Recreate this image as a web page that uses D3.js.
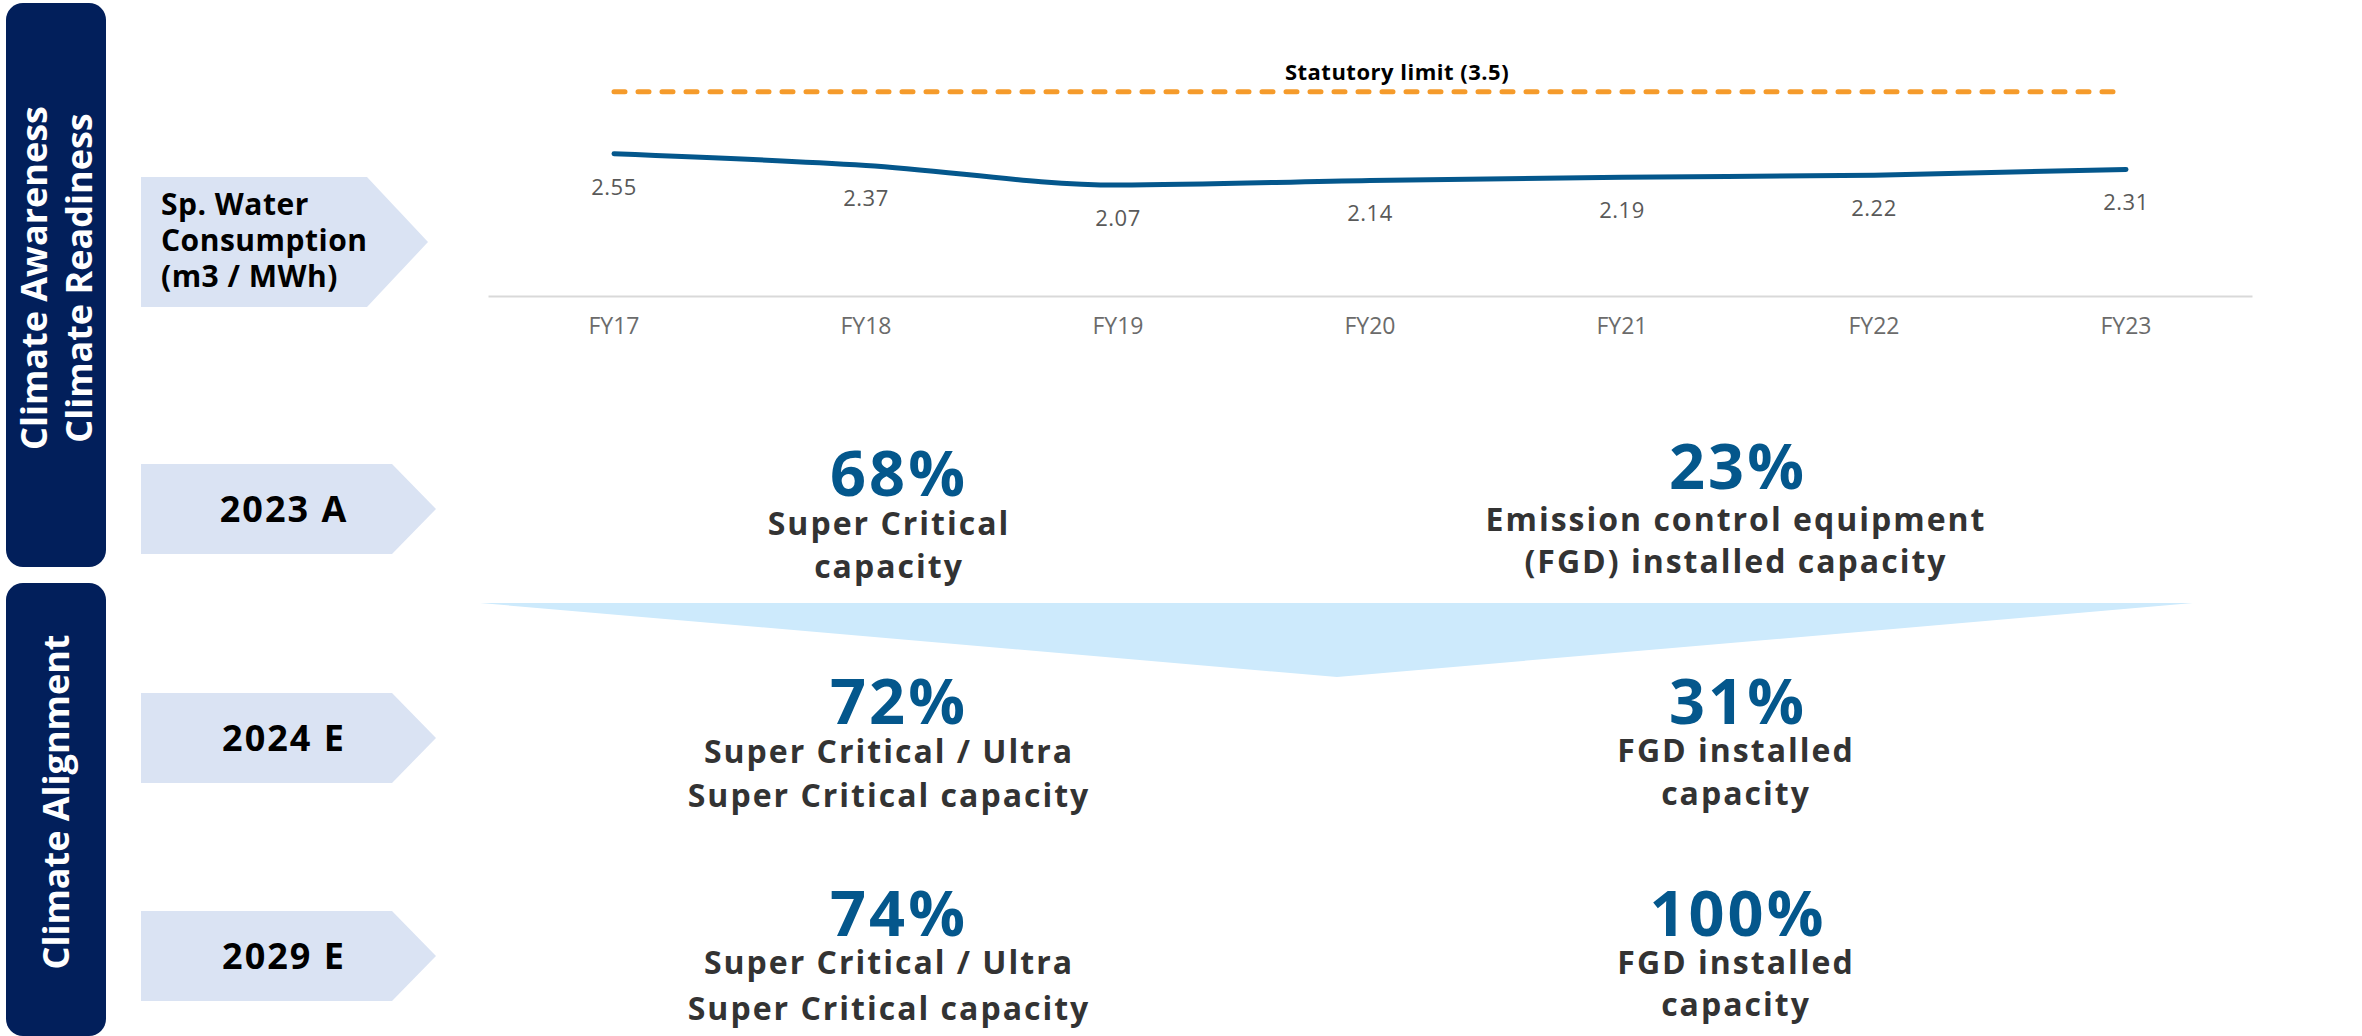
<!DOCTYPE html>
<html>
<head>
<meta charset="utf-8">
<script src="https://cdn.jsdelivr.net/npm/d3@7"></script>
<style>
    html, body { margin: 0; padding: 0; background: #ffffff; }
    svg { display: block; }
    text { font-family: "Open Sans", "Noto Sans", sans-serif; }
</style>
</head>
<body>
<div id="graph"></div>
<script>
/*
    Data
*/
var years = ["FY17", "FY18", "FY19", "FY20", "FY21", "FY22", "FY23"],
    waterUse = [2.55, 2.37, 2.07, 2.14, 2.19, 2.22, 2.31],
    statutoryLimit = 3.5,
    statutoryLabel = "Statutory limit (3.5)"

var outlookRows = ["2023 A", "2024 E", "2029 E"],
    superCriticalPct = [68, 72, 74],
    superCriticalText = [
        ["Super Critical", "capacity"],
        ["Super Critical / Ultra", "Super Critical capacity"],
        ["Super Critical / Ultra", "Super Critical capacity"]
    ],
    fgdPct = [23, 31, 100],
    fgdText = [
        ["Emission control equipment", "(FGD) installed capacity"],
        ["FGD installed", "capacity"],
        ["FGD installed", "capacity"]
    ]

var sideTitles = [
    ["Climate Awareness", "Climate Readiness"],
    ["Climate Alignment"]
]

/*
    Canvas
*/
var width = 2362,
    height = 1036

var svg = d3.select("#graph").append("svg")
            .attr("width", width)
            .attr("height", height)

var navy = "#021f5b",
    blue = "#04578c",
    orange = "#f59b2b",
    tag = "#dae3f3"

/*
    Navy side bars with vertical titles
*/
var sideBars = [
    {y: 3, h: 564, lines: sideTitles[0], base: [47, 92], cy: 278},
    {y: 583, h: 453, lines: sideTitles[1], base: [69], cy: 802}
]

sideBars.forEach(function( b ) {
    svg.append("rect")
        .attr("x", 6)
        .attr("y", b.y)
        .attr("width", 100)
        .attr("height", b.h)
        .attr("rx", 17)
        .attr("fill", navy)

    b.lines.forEach(function( line, i ) {
        svg.append("text")
            .attr("transform", "translate(" + b.base[i] + "," + b.cy + ") rotate(-90)")
            .attr("text-anchor", "middle")
            .attr("fill", "#ffffff")
            .style("font-size", "36px")
            .style("font-weight", 700)
            .text(line)
    })
})

/*
    Chevron tags on the left
*/
function chevron( top, bottom, rEnd, tip ) {
    var mid = (top + bottom) / 2
    return [[141, top], [rEnd, top], [tip, mid], [rEnd, bottom], [141, bottom]]
}

svg.append("polygon")
    .attr("points", chevron(177, 307, 367, 428).join(" "))
    .attr("fill", tag)

var tagLines = ["Sp. Water", "Consumption", "(m3 / MWh)"]
tagLines.forEach(function( t, i ) {
    svg.append("text")
        .attr("x", 161)
        .attr("y", 215 + i * 36)
        .attr("fill", "#000000")
        .style("font-size", "30px")
        .style("font-weight", 700)
        .style("letter-spacing", "0.5px")
        .text(t)
})

var rowTags = [
    {top: 464, bottom: 554, base: 522},
    {top: 693, bottom: 783, base: 751},
    {top: 911, bottom: 1001, base: 969}
]

outlookRows.forEach(function( label, i ) {
    var r = rowTags[i]
    svg.append("polygon")
        .attr("points", chevron(r.top, r.bottom, 392, 436).join(" "))
        .attr("fill", tag)

    svg.append("text")
        .attr("x", 284)
        .attr("y", r.base)
        .attr("text-anchor", "middle")
        .attr("fill", "#000000")
        .style("font-size", "36px")
        .style("font-weight", 700)
        .style("letter-spacing", "2px")
        .text(label)
})

/*
    Water consumption line chart
*/
var x = d3.scaleBand()
          .domain(years)
          .range([488, 2252]),
    y = d3.scaleLinear()
          .domain([2, 3.5])
          .range([189.6, 91.8])

var cx = function( d ) { return x(d) + x.bandwidth() / 2 }

var xAxis = svg.append("g")
    .attr("class", "x axis")
    .attr("transform", "translate(0,296)")
    .call(d3.axisBottom(x).tickSize(0).tickPadding(22))

xAxis.select(".domain")
    .attr("stroke", "#d9d9d9")
    .attr("stroke-width", 2)

xAxis.selectAll("text")
    .attr("fill", "#6b6b6b")
    .style("font-size", "23px")
    .style("font-family", "'Open Sans', sans-serif")

// Statutory limit
svg.append("line")
    .attr("x1", cx(years[0]))
    .attr("x2", cx(years[years.length - 1]))
    .attr("y1", y(statutoryLimit))
    .attr("y2", y(statutoryLimit))
    .attr("stroke", orange)
    .attr("stroke-width", 5)
    .attr("stroke-linecap", "round")
    .attr("stroke-dasharray", "11 13")

svg.append("text")
    .attr("x", 1397)
    .attr("y", y(statutoryLimit) - 12)
    .attr("text-anchor", "middle")
    .attr("fill", "#000000")
    .style("font-size", "22px")
    .style("font-weight", 700)
    .style("letter-spacing", "0.5px")
    .text(statutoryLabel)

var points = years.map(function( d, i ) { return [cx(d), y(waterUse[i])] })

var line = d3.line()
    .curve(d3.curveMonotoneX)

svg.append("path")
    .attr("d", line(points))
    .attr("fill", "none")
    .attr("stroke", blue)
    .attr("stroke-width", 5)
    .attr("stroke-linecap", "round")
    .attr("stroke-linejoin", "round")

svg.selectAll(".value-label")
    .data(waterUse)
    .enter().append("text")
    .attr("class", "value-label")
    .attr("x", function( d, i ) { return cx(years[i]) })
    .attr("y", function( d ) { return y(d) + 41 })
    .attr("text-anchor", "middle")
    .attr("fill", "#595959")
    .style("font-size", "22px")
    .style("letter-spacing", "0.5px")
    .text(function( d ) { return d3.format(".2f")(d) })

/*
    Funnel between actual and estimates
*/
svg.append("polygon")
    .attr("points", [[480, 603], [2193, 603], [1337, 677]].join(" "))
    .attr("fill", "#cdeafc")

/*
    Capacity figures
*/
var rowPos = [
    {pct: [496, 489], l1: [535, 531], l2: [578, 573]},
    {pct: [724, 724], l1: [763, 762], l2: [807, 805]},
    {pct: [936, 936], l1: [974, 974], l2: [1020, 1016]}
]

function figure( colX, pctX, col, pct, lines, pos ) {
    svg.append("text")
        .attr("x", pctX)
        .attr("y", pos.pct[col])
        .attr("text-anchor", "middle")
        .attr("fill", blue)
        .style("font-size", "63px")
        .style("font-weight", 700)
        .style("letter-spacing", "3px")
        .text(pct + "%")

    lines.forEach(function( t, j ) {
        svg.append("text")
            .attr("x", colX)
            .attr("y", j == 0 ? pos.l1[col] : pos.l2[col])
            .attr("text-anchor", "middle")
            .attr("fill", "#333333")
            .style("font-size", "32px")
            .style("font-weight", 700)
            .style("letter-spacing", "2px")
            .text(t)
    })
}

outlookRows.forEach(function( r, i ) {
    figure(889, 899, 0, superCriticalPct[i], superCriticalText[i], rowPos[i])
    figure(1736, 1738, 1, fgdPct[i], fgdText[i], rowPos[i])
})
</script>
</body>
</html>
